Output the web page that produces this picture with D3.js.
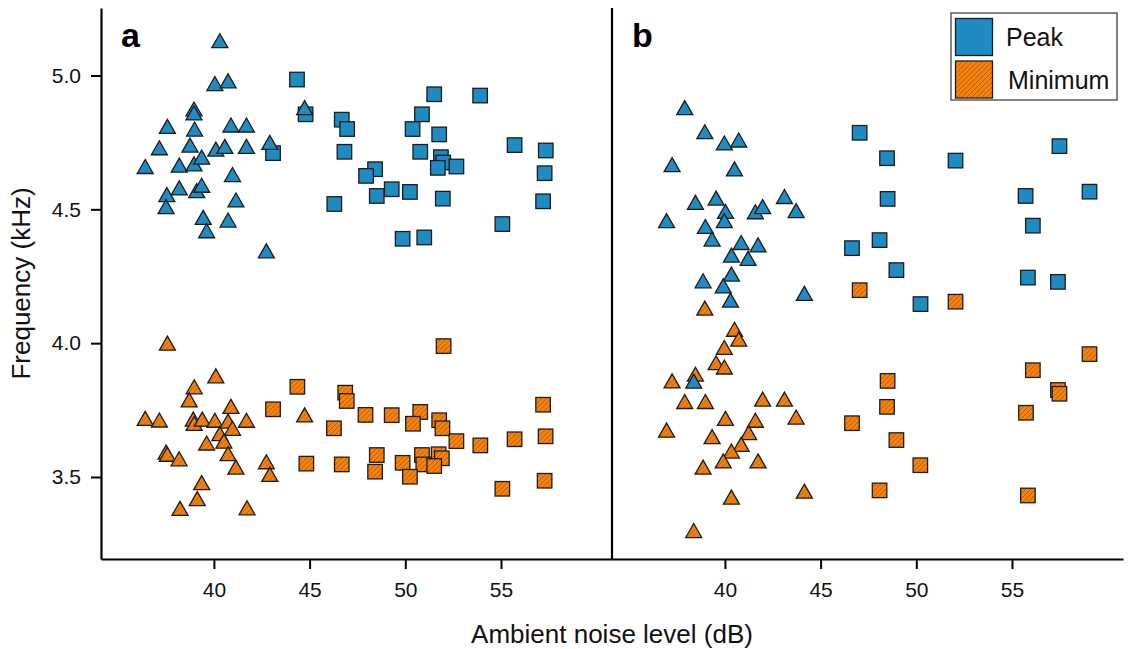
<!DOCTYPE html>
<html>
<head>
<meta charset="utf-8">
<script src="https://d3js.org/d3.v7.min.js"></script>
<style>
  body { margin: 0; padding: 0; background: #fff; }
  svg { display: block; font-family: "Liberation Sans", Arial, sans-serif; }
</style>
</head>
<body>
<svg id="chart" width="1129" height="649"></svg>
<script>
// [ambient noise dB, frequency kHz]
const aPeakTri = [[40.31,5.13],[40.05,4.97],[40.74,4.98],[38.96,4.875],[38.96,4.86],[37.57,4.81],[38.99,4.80],[40.89,4.815],[41.70,4.815],[37.15,4.73],[38.75,4.74],[40.10,4.725],[40.57,4.735],[41.70,4.735],[42.92,4.75],[36.41,4.66],[38.19,4.665],[38.96,4.67],[39.36,4.695],[40.97,4.63],[38.19,4.58],[37.54,4.555],[39.10,4.57],[39.36,4.59],[41.15,4.535],[37.50,4.51],[39.44,4.47],[40.74,4.46],[39.62,4.42],[42.74,4.345],[44.74,4.88]];
const aPeakSq = [[44.34,4.985],[44.79,4.855],[46.68,4.835],[46.96,4.80],[46.82,4.715],[51.51,4.93],[53.91,4.925],[50.87,4.855],[50.38,4.80],[51.77,4.78],[50.78,4.715],[51.86,4.695],[51.98,4.675],[51.70,4.655],[52.67,4.66],[55.71,4.74],[57.34,4.72],[57.28,4.635],[57.20,4.53],[55.07,4.445],[48.42,4.65],[47.95,4.625],[48.51,4.55],[49.29,4.575],[50.24,4.565],[51.96,4.54],[46.29,4.52],[49.86,4.39],[50.99,4.395],[43.09,4.71]];
const aMinTri = [[37.57,4.00],[40.10,3.878],[38.97,3.837],[38.71,3.788],[40.89,3.764],[36.41,3.719],[37.15,3.713],[38.92,3.716],[38.97,3.70],[39.39,3.716],[40.05,3.712],[40.74,3.709],[41.70,3.712],[40.97,3.682],[40.31,3.662],[40.52,3.634],[39.62,3.627],[40.74,3.587],[41.15,3.537],[37.50,3.593],[37.57,3.585],[38.18,3.568],[42.74,3.557],[42.92,3.51],[39.36,3.479],[39.13,3.419],[38.23,3.383],[41.73,3.385],[44.74,3.732]];
const aMinSq = [[44.36,3.837],[43.09,3.753],[46.86,3.815],[46.94,3.784],[46.27,3.682],[44.83,3.55],[46.68,3.547],[52.00,3.989],[47.92,3.732],[49.29,3.731],[50.78,3.743],[50.40,3.699],[51.77,3.712],[51.94,3.682],[52.67,3.634],[53.92,3.618],[55.71,3.641],[57.33,3.652],[57.20,3.77],[48.51,3.582],[48.42,3.52],[49.86,3.553],[50.87,3.582],[51.74,3.585],[51.91,3.57],[50.94,3.547],[51.51,3.541],[50.24,3.501],[55.07,3.456],[57.28,3.486]];

const bPeakTri = [[37.90,4.88],[38.95,4.79],[39.97,4.748],[40.72,4.759],[37.24,4.667],[40.50,4.651],[38.46,4.526],[39.54,4.542],[40.03,4.492],[39.97,4.458],[41.59,4.491],[41.97,4.51],[43.11,4.548],[43.72,4.495],[36.95,4.458],[38.98,4.436],[39.33,4.389],[40.85,4.376],[41.73,4.367],[40.34,4.329],[41.21,4.317],[38.86,4.233],[40.34,4.258],[39.91,4.214],[40.29,4.161],[44.15,4.186],[38.37,3.858]];
const bPeakSq = [[47.04,4.786],[48.47,4.691],[52.05,4.682],[57.48,4.736],[48.50,4.539],[55.71,4.55],[59.05,4.566],[56.09,4.439],[46.64,4.355],[48.08,4.385],[48.96,4.273],[55.83,4.245],[57.40,4.229],[50.22,4.146]];
const bMinTri = [[38.95,4.131],[40.50,4.052],[40.72,4.015],[39.97,3.984],[39.54,3.927],[39.97,3.911],[38.46,3.884],[37.24,3.859],[37.90,3.782],[38.98,3.782],[41.97,3.791],[43.11,3.791],[43.72,3.724],[41.59,3.712],[40.03,3.719],[36.95,3.675],[41.24,3.666],[39.33,3.651],[40.85,3.622],[40.34,3.597],[39.91,3.56],[41.73,3.56],[38.86,3.537],[44.15,3.447],[40.34,3.425],[38.37,3.30]];
const bMinSq = [[47.04,4.198],[52.05,4.155],[59.05,3.959],[56.09,3.899],[57.40,3.825],[57.48,3.811],[55.73,3.74],[55.83,3.431],[48.50,3.859],[48.47,3.762],[46.64,3.701],[48.96,3.638],[50.21,3.544],[48.08,3.45]];

const xTicks = [40, 45, 50, 55];
const yTicks = [3.5, 4.0, 4.5, 5.0];
const seriesNames = ['Peak', 'Minimum'];
const panelLabels = ['a', 'b'];

const blue = '#1f8bc3';
const orange = '#f5820f';
const edge = '#1c1c1c';

const svg = d3.select('#chart');
const plotTop = 8, plotBottom = 559, plotLeft = 101, plotMid = 612, plotRight = 1123;

const xA = d3.scaleLinear().domain([34.1, 60.8]).range([plotLeft, plotMid]);
const xB = d3.scaleLinear().domain([34.1, 60.8]).range([plotMid, plotRight]);
const y = d3.scaleLinear().domain([3.5, 5.0]).range([477, 75.5]);
y.domain([y.invert(plotBottom), y.invert(plotTop)]).range([plotBottom, plotTop]);

// hatch for the minimum markers
const defs = svg.append('defs');
const pat = defs.append('pattern')
  .attr('id', 'hatch')
  .attr('patternUnits', 'userSpaceOnUse')
  .attr('width', 5).attr('height', 5);
pat.append('rect').attr('width', 5).attr('height', 5).attr('fill', orange);
pat.append('path')
  .attr('d', 'M-1,1 L1,-1 M0,5 L5,0 M4,6 L6,4')
  .attr('stroke', '#7a3500').attr('stroke-opacity', 0.55).attr('stroke-width', 0.8);

const tri = 'M0,-7L8,7L-8,7Z';
const sq = 7.25;

function drawSquares(g, data, x, fill) {
  g.selectAll(null).data(data).enter().append('rect')
    .attr('x', d => x(d[0]) - sq)
    .attr('y', d => y(d[1]) - sq)
    .attr('width', sq * 2).attr('height', sq * 2)
    .attr('fill', fill)
    .attr('stroke', edge).attr('stroke-width', 1.3);
}

function drawTriangles(g, data, x, fill) {
  g.selectAll(null).data(data).enter().append('path')
    .attr('d', tri)
    .attr('transform', d => `translate(${x(d[0])},${y(d[1])})`)
    .attr('fill', fill)
    .attr('stroke', edge).attr('stroke-width', 1.3)
    .attr('stroke-linejoin', 'miter');
}

const panels = [
  { x: xA, peakTri: aPeakTri, peakSq: aPeakSq, minTri: aMinTri, minSq: aMinSq },
  { x: xB, peakTri: bPeakTri, peakSq: bPeakSq, minTri: bMinTri, minSq: bMinSq }
];

panels.forEach((p, i) => {
  const g = svg.append('g');
  drawSquares(g, p.minSq, p.x, 'url(#hatch)');
  drawSquares(g, p.peakSq, p.x, blue);
  drawTriangles(g, p.minTri, p.x, 'url(#hatch)');
  drawTriangles(g, p.peakTri, p.x, blue);

  const ax = svg.append('g')
    .attr('transform', `translate(0,${plotBottom})`)
    .call(d3.axisBottom(p.x).tickValues(xTicks).tickSize(10).tickSizeOuter(0).tickPadding(13));
  ax.select('.domain').attr('stroke-width', 2.2).attr('stroke', '#000');
  ax.selectAll('.tick line').attr('stroke-width', 2).attr('stroke', '#000');
  ax.selectAll('.tick text').attr('font-size', 21).attr('fill', '#111')
    .attr('font-family', '"Liberation Sans", Arial, sans-serif');

  svg.append('text')
    .attr('x', p.x.range()[0] + 20)
    .attr('y', 47)
    .attr('font-size', 34).attr('font-weight', 'bold')
    .text(panelLabels[i]);
});

// left axis and panel divider
const ay = svg.append('g')
  .attr('transform', `translate(${plotLeft},0)`)
  .call(d3.axisLeft(y).tickValues(yTicks).tickFormat(d3.format('.1f')).tickSize(10).tickSizeOuter(0).tickPadding(10));
ay.select('.domain').attr('stroke-width', 2.2).attr('stroke', '#000');
ay.selectAll('.tick line').attr('stroke-width', 2).attr('stroke', '#000');
ay.selectAll('.tick text').attr('font-size', 21).attr('fill', '#111')
  .attr('font-family', '"Liberation Sans", Arial, sans-serif');

svg.append('line')
  .attr('x1', plotMid).attr('x2', plotMid)
  .attr('y1', y.range()[1]).attr('y2', y.range()[0])
  .attr('stroke', '#000').attr('stroke-width', 2.2);

// axis titles
svg.append('text')
  .attr('x', plotMid).attr('y', 643)
  .attr('text-anchor', 'middle')
  .attr('font-size', 26).attr('fill', '#111')
  .text('Ambient noise level (dB)');

svg.append('text')
  .attr('transform', `translate(30,${(plotTop + plotBottom) / 2}) rotate(-90)`)
  .attr('text-anchor', 'middle')
  .attr('font-size', 26).attr('fill', '#111')
  .text('Frequency (kHz)');

// legend
const lg = svg.append('g').attr('transform', 'translate(951,13)');
lg.append('rect')
  .attr('width', 166).attr('height', 87)
  .attr('fill', '#fff').attr('stroke', '#444').attr('stroke-width', 1.3);
seriesNames.forEach((name, i) => {
  lg.append('rect')
    .attr('x', 4.5).attr('y', 5.5 + i * 42.5)
    .attr('width', 37).attr('height', 37)
    .attr('fill', i === 0 ? blue : 'url(#hatch)')
    .attr('stroke', edge).attr('stroke-width', 1.3);
  lg.append('text')
    .attr('x', i === 0 ? 55 : 57).attr('y', 33 + i * 43)
    .attr('font-size', 25).attr('fill', '#111')
    .text(name);
});
</script>
</body>
</html>
